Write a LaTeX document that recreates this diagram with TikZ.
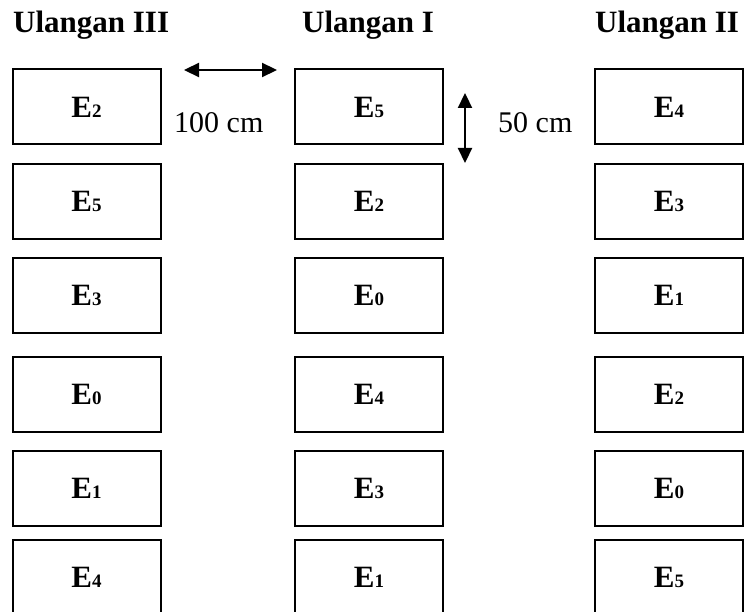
\documentclass[tikz,border=0pt]{standalone}
\usepackage{fontspec}
\setmainfont{Liberation Serif}
\usetikzlibrary{arrows.meta}
\tikzset{
  plot/.style={draw, line width=2pt, minimum width=148pt, minimum height=75pt, inner sep=0pt},
  title/.style={anchor=base west, inner sep=0pt, font=\fontsize{31}{31}\selectfont\bfseries},
  dim/.style={anchor=base west, inner sep=0pt, font=\fontsize{30}{30}\selectfont},
  dimarrow/.style={line width=2.2pt, {Triangle[length=15pt,width=14pt]}-{Triangle[length=15pt,width=14pt]}}
}
\newcommand{\trt}[1]{{\fontsize{31}{31}\selectfont\bfseries E{\fontsize{19}{19}\selectfont #1}}}
\begin{document}
\begin{tikzpicture}[x=1pt,y=-1pt]
\useasboundingbox (0,0) rectangle (749,612);
% titles
\node[title] (t3) at (13,33) {Ulangan III};
\node[title] (t1) at (302,33) {Ulangan I};
\node[title] (t2) at (595,33) {Ulangan II};
% column III
\node[plot] (a1) at (86.5,107) {\trt{2}};
\node[plot] (a2) at (86.5,201.5) {\trt{5}};
\node[plot] (a3) at (86.5,295.5) {\trt{3}};
\node[plot] (a4) at (86.5,394) {\trt{0}};
\node[plot] (a5) at (86.5,488) {\trt{1}};
\node[plot] (a6) at (86.5,577) {\trt{4}};
% column I
\node[plot] (b1) at (369,107) {\trt{5}};
\node[plot] (b2) at (369,201.5) {\trt{2}};
\node[plot] (b3) at (369,295.5) {\trt{0}};
\node[plot] (b4) at (369,394) {\trt{4}};
\node[plot] (b5) at (369,488) {\trt{3}};
\node[plot] (b6) at (369,577) {\trt{1}};
% column II
\node[plot] (c1) at (669,107) {\trt{4}};
\node[plot] (c2) at (669,201.5) {\trt{3}};
\node[plot] (c3) at (669,295.5) {\trt{1}};
\node[plot] (c4) at (669,394) {\trt{2}};
\node[plot] (c5) at (669,488) {\trt{0}};
\node[plot] (c6) at (669,577) {\trt{5}};
% dimensions
\coordinate (h1) at (184,70);
\coordinate (h2) at (277,70);
\draw[dimarrow] (h1) -- (h2);
\node[dim] (d100) at (174,133) {100 cm};
\coordinate (v1) at (465,93);
\coordinate (v2) at (465,163);
\draw[dimarrow] (v1) -- (v2);
\node[dim] (d50) at (498,133) {50 cm};
\end{tikzpicture}
\end{document}
